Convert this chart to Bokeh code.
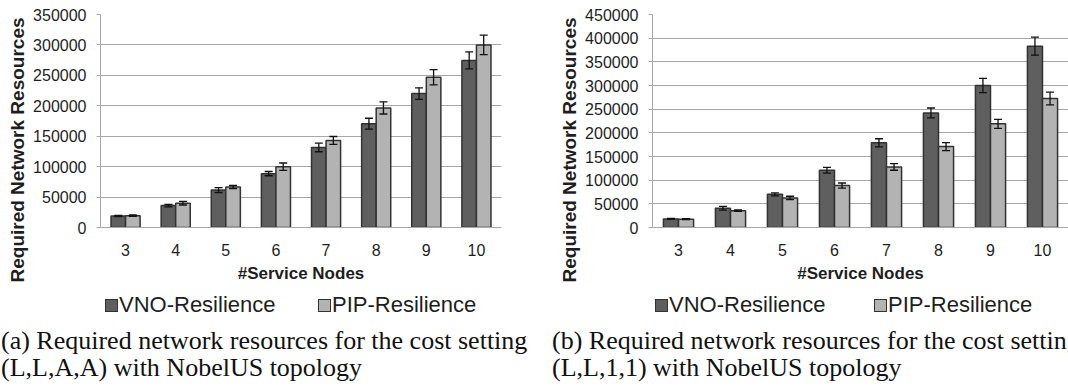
from bokeh.embed import file_html
from bokeh.layouts import column, row
from bokeh.models import (BasicTickFormatter, ColumnDataSource, Div, FactorRange, FixedTicker,
                          Range1d, TeeHead, Title, Whisker)
from bokeh.plotting import figure
from bokeh.resources import INLINE
from bokeh.transform import dodge

# Number of service nodes on the x axis
nodes = ["3", "4", "5", "6", "7", "8", "9", "10"]

# (a) cost setting (L,L,A,A)
vno_a = [19000, 36000, 61500, 88500, 131500, 170500, 220000, 274500]
vno_a_err = [1000, 2000, 4000, 3500, 7000, 9000, 9500, 14000]
pip_a = [19500, 40000, 66500, 100000, 143000, 196500, 247000, 300000]
pip_a_err = [1000, 3000, 2500, 6000, 6500, 10000, 12500, 16000]

# (b) cost setting (L,L,1,1)
vno_b = [18000, 40500, 70000, 121000, 179000, 242000, 300000, 383000]
vno_b_err = [1000, 4000, 3000, 6000, 8500, 10500, 15000, 19000]
pip_b = [17500, 35500, 62500, 88500, 128000, 171000, 219000, 272500]
pip_b_err = [1000, 1500, 3500, 5500, 7000, 8500, 9500, 13500]

series_names = ["VNO-Resilience", "PIP-Resilience"]
y_max_a = 350000
y_max_b = 450000
y_step = 50000

caption_a = ["(a) Required network resources for the cost setting",
             "(L,L,A,A) with NobelUS topology"]
caption_b = ["(b) Required network resources for the cost setting",
             "(L,L,1,1) with NobelUS topology"]

SANS = "Liberation Sans"
SERIF = "Liberation Serif"
DARK = "#5f5f5f"
LIGHT = "#b3b3b3"
EDGE = "#333333"
GRID = "#a8a8a8"
TEXT = "#1e1e1e"
BAR_W = 0.29

PANEL_W = 534
CHART_H = 290
FOOT_H = 96


def make_chart(vno, vno_err, pip, pip_err, y_max, min_left, min_right):
    p = figure(
        x_range=FactorRange(factors=nodes, range_padding=0),
        y_range=Range1d(0, y_max),
        width=PANEL_W, height=CHART_H,
        min_border_left=min_left, min_border_right=min_right,
        min_border_top=14, min_border_bottom=CHART_H - 227,
        output_backend="svg", toolbar_location=None, tools="",
    )
    p.outline_line_color = None
    p.background_fill_color = "white"
    p.border_fill_color = "white"

    src = ColumnDataSource(dict(
        x=nodes,
        vno=vno, vno_lo=[v - e for v, e in zip(vno, vno_err)],
        vno_hi=[v + e for v, e in zip(vno, vno_err)],
        pip=pip, pip_lo=[v - e for v, e in zip(pip, pip_err)],
        pip_hi=[v + e for v, e in zip(pip, pip_err)],
    ))

    off = BAR_W / 2
    p.vbar(x=dodge("x", -off, range=p.x_range), top="vno", width=BAR_W,
           source=src, fill_color=DARK, line_color=EDGE, line_width=1.5)
    p.vbar(x=dodge("x", off, range=p.x_range), top="pip", width=BAR_W,
           source=src, fill_color=LIGHT, line_color=EDGE, line_width=1.5)

    for key, shift in (("vno", -off), ("pip", off)):
        w = Whisker(
            base=dodge("x", shift, range=p.x_range),
            lower=f"{key}_lo", upper=f"{key}_hi", source=src,
            line_color="#111111", line_width=1.3, level="overlay",
            lower_head=TeeHead(size=8, line_color="#111111", line_width=1.3),
            upper_head=TeeHead(size=8, line_color="#111111", line_width=1.3),
        )
        p.add_layout(w)

    # y axis
    yax = p.yaxis[0]
    yax.ticker = FixedTicker(ticks=list(range(0, y_max + 1, y_step)))
    yax.formatter = BasicTickFormatter(use_scientific=False)
    yax.major_label_text_font = SANS
    yax.major_label_text_font_size = "16px"
    yax.major_label_text_color = TEXT
    yax.axis_line_color = GRID
    yax.major_tick_line_color = GRID
    yax.major_tick_out = 4
    yax.major_tick_in = 0
    yax.minor_tick_line_color = None
    yax.major_label_standoff = 10

    # x axis
    xax = p.xaxis[0]
    xax.axis_label = "#Service Nodes"
    xax.axis_label_text_font = SANS
    xax.axis_label_text_font_style = "bold"
    xax.axis_label_text_font_size = "17px"
    xax.axis_label_text_color = TEXT
    xax.axis_label_standoff = 5
    xax.major_label_text_font = SANS
    xax.major_label_text_font_size = "16px"
    xax.major_label_text_color = TEXT
    xax.major_label_standoff = 10
    xax.axis_line_color = GRID
    xax.major_tick_line_color = None
    xax.minor_tick_line_color = None

    p.xgrid.grid_line_color = None
    p.ygrid.grid_line_color = GRID
    p.ygrid.grid_line_width = 1

    # vertical y-axis title, started below the frame so it runs past the x axis
    p.add_layout(Title(
        text="Required Network Resources", align="left", offset=-55,
        standoff=6, text_font=SANS, text_font_style="bold",
        text_font_size="19px", text_color=TEXT,
    ), "left")
    return p


def swatch_item(left, color, label):
    return (
        f'<div style="position:absolute;left:{left}px;top:2px;height:26px;'
        f'display:flex;align-items:center;white-space:nowrap;">'
        f'<span style="display:inline-block;width:13px;height:13px;box-sizing:border-box;'
        f'background:{color};border:1.5px solid {EDGE};margin-right:1px;"></span>'
        f'<span style="font-family:\'{SANS}\';font-size:22px;color:{TEXT};'
        f'line-height:26px;">{label}</span></div>'
    )


def make_footer(caption, item_lefts, caption_x):
    parts = [swatch_item(item_lefts[0], DARK, series_names[0]),
             swatch_item(item_lefts[1], LIGHT, series_names[1])]
    for i, line in enumerate(caption):
        parts.append(
            f'<div style="position:absolute;left:{caption_x}px;top:{37 + 27 * i}px;'
            f'white-space:nowrap;font-family:\'{SERIF}\';font-size:26px;'
            f'line-height:27px;color:#111111;">{line}</div>'
        )
    html = (f'<div style="position:relative;width:{PANEL_W}px;height:{FOOT_H}px;'
            f'overflow:hidden;background:white;">' + "".join(parts) + '</div>')
    return Div(text=html, width=PANEL_W, height=FOOT_H, margin=0)


p_a = make_chart(vno_a, vno_a_err, pip_a, pip_a_err, y_max_a, min_left=100, min_right=33)
p_b = make_chart(vno_b, vno_b_err, pip_b, pip_b_err, y_max_b, min_left=118, min_right=0)
f_a = make_footer(caption_a, item_lefts=(105, 318), caption_x=1)
f_b = make_footer(caption_b, item_lefts=(121, 340), caption_x=18)

layout = row(column(p_a, f_a, spacing=0), column(p_b, f_b, spacing=0), spacing=0)
open("out.html", "w").write(file_html(layout, INLINE))
